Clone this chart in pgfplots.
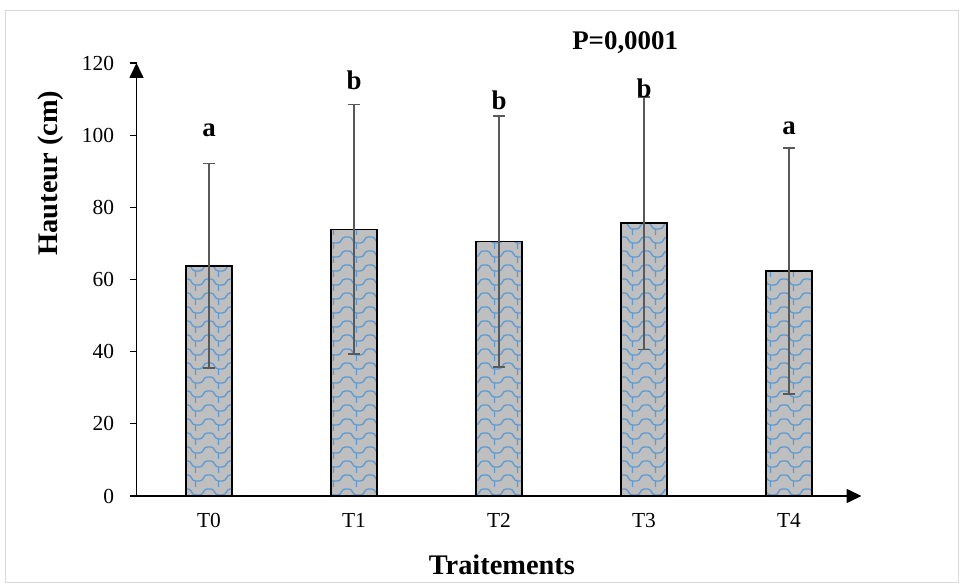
\documentclass[border=0pt]{standalone}
\usepackage{pgfplots}
\pgfplotsset{compat=1.18}
\usepackage{fontspec}
\setmainfont{Liberation Serif}
\usetikzlibrary{patterns,arrows.meta}
\definecolor{barfill}{HTML}{BFBFBF}
\definecolor{patblue}{HTML}{5B9BD5}
\definecolor{errgray}{HTML}{595959}
\definecolor{framegray}{HTML}{D9D9D9}
\pgfdeclarepatternformonly{wavy}{\pgfqpoint{-1bp}{-1bp}}{\pgfqpoint{24bp}{15bp}}{\pgfqpoint{23bp}{14bp}}{%
  \pgfsetlinewidth{1.3bp}%
  \pgfpathmoveto{\pgfqpoint{0bp}{10bp}}%
  \pgfpathlineto{\pgfqpoint{4bp}{10bp}}%
  \pgfpathcurveto{\pgfqpoint{8bp}{10bp}}{\pgfqpoint{7bp}{4bp}}{\pgfqpoint{11.5bp}{4bp}}%
  \pgfpathlineto{\pgfqpoint{15.5bp}{4bp}}%
  \pgfpathcurveto{\pgfqpoint{20bp}{4bp}}{\pgfqpoint{19bp}{10bp}}{\pgfqpoint{23bp}{10bp}}%
  \pgfpathmoveto{\pgfqpoint{11.5bp}{4bp}}%
  \pgfpathlineto{\pgfqpoint{11.5bp}{0bp}}%
  \pgfpathmoveto{\pgfqpoint{11.5bp}{14bp}}%
  \pgfpathlineto{\pgfqpoint{11.5bp}{12bp}}%
  \pgfusepath{stroke}%
}
\begin{document}
\begin{tikzpicture}
\path (0,0) rectangle (959bp,583bp);
\draw[framegray, line width=1bp] (5bp,0.5bp) rectangle (958.5bp,572bp);
\begin{axis}[
  at={(136.5bp,87bp)}, anchor=south west,
  scale only axis, width=725bp, height=433bp,
  xmin=-0.5, xmax=4.5, ymin=0, ymax=120,
  axis lines=left,
  axis line style={line width=1.6bp, -{Triangle[length=15bp,width=14bp]}},
  xtick=data, xticklabels={T0,T1,T2,T3,T4},
  ytick={0,20,40,60,80,100,120},
  x tick style={draw=none},
  y tick style={line width=1.3bp, black},
  tick align=outside, major tick length=6bp,
  xticklabel style={anchor=north, text height=0.7em, text depth=0pt, yshift=-15bp},
  yticklabel style={xshift=-13bp},
  tick label style={font=\fontsize{21.5}{21.5}\selectfont},
  /pgf/number format/assume math mode=true,
  xlabel={\textbf{Traitements}},
  ylabel={\textbf{Hauteur (cm)}},
  label style={font=\fontsize{28.5}{28.5}\selectfont},
  xlabel style={at={(axis description cs:0.504,-0.159)}, anchor=center},
  ylabel style={at={(axis description cs:-0.119,0.746)}, anchor=center},
  clip=false,
]
\addplot[ybar, bar width=46bp, fill=barfill, draw=black, line width=1.5bp,
  postaction={pattern=wavy, pattern color=patblue},
  error bars/.cd, y dir=both, y explicit,
  error bar style={line width=1.5bp, color=errgray},
  error mark options={rotate=90, mark size=6bp, line width=1.5bp, color=errgray}]
coordinates {
  (0,63.8) +- (0,28.3)
  (1,73.9) +- (0,34.6)
  (2,70.5) +- (0,34.8)
  (3,75.6) +- (0,35.0)
  (4,62.3) +- (0,34.1)
};
\node[font=\fontsize{27}{27}\selectfont\bfseries] at (axis cs:0,101.4) {a};
\node[font=\fontsize{27}{27}\selectfont\bfseries] at (axis cs:1,115.3) {b};
\node[font=\fontsize{27}{27}\selectfont\bfseries] at (axis cs:2,109.8) {b};
\node[font=\fontsize{27}{27}\selectfont\bfseries] at (axis cs:3,113) {b};
\node[font=\fontsize{27}{27}\selectfont\bfseries] at (axis cs:4,102) {a};
\node[font=\fontsize{27}{27}\selectfont\bfseries] at (axis cs:2.87,125.6) {P=0,0001};
\end{axis}
\end{tikzpicture}
\end{document}
